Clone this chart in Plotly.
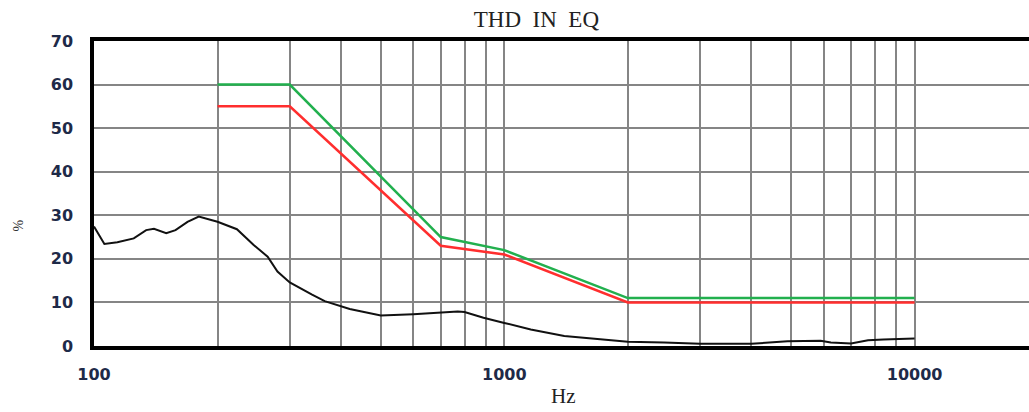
import plotly.graph_objects as go

# THD measurement (black)
freq_meas = [100, 106, 114, 125, 134, 140, 150, 158, 169, 180, 200, 223, 245, 265, 280, 300,
             340, 365, 420, 500, 600, 700, 770, 800, 890, 1000, 1160, 1400, 1700, 2000,
             2450, 3000, 4000, 4900, 5900, 6250, 7000, 7700, 8400, 10000]
thd_meas = [27.4, 23.4, 23.8, 24.7, 26.6, 26.9, 25.9, 26.6, 28.5, 29.7, 28.5, 26.8, 23.2, 20.5,
            17.1, 14.6, 11.8, 10.3, 8.5, 7.0, 7.3, 7.6, 7.9, 7.8, 6.5, 5.3, 3.8, 2.3, 1.5, 1.0,
            0.8, 0.5, 0.5, 1.1, 1.2, 0.8, 0.6, 1.3, 1.5, 1.7]

# Limit lines
freq_limit = [200, 300, 700, 1000, 2000, 10000]
limit_green = [60, 60, 25, 22, 11, 11]
limit_red = [55, 55, 23, 21, 10, 10]

# Axis ticks / gridlines
x_grid = [100, 200, 300, 400, 500, 600, 700, 800, 900,
          1000, 2000, 3000, 4000, 5000, 6000, 7000, 8000, 9000, 10000]
x_labels = {100: "100", 1000: "1000", 10000: "10000"}
y_ticks = [0, 10, 20, 30, 40, 50, 60, 70]

W, H = 1029, 412
L, R, T, B = 94, 0, 41, 66
decade_px = 410.3
x_end = 2 + (W - L - R) / decade_px

fig = go.Figure()
fig.add_trace(go.Scatter(x=freq_limit, y=limit_green, mode="lines",
                         line=dict(color="#22b04e", width=2.5), showlegend=False))
fig.add_trace(go.Scatter(x=freq_limit, y=limit_red, mode="lines",
                         line=dict(color="#ff2e2e", width=2.5), showlegend=False))
fig.add_trace(go.Scatter(x=freq_meas, y=thd_meas, mode="lines",
                         line=dict(color="#111111", width=2), showlegend=False))

tickfont = dict(family="DejaVu Sans", size=16, color="#1e2a48", weight="bold")

fig.update_layout(
    width=W, height=H,
    margin=dict(l=L, r=R, t=T, b=B, pad=0),
    paper_bgcolor="white", plot_bgcolor="white",
    title=dict(text="THD\u00a0\u00a0IN\u00a0\u00a0EQ", xref="container", yref="container",
               x=536.4 / W, y=1 - 18.5 / H, xanchor="center", yanchor="middle",
               font=dict(family="Liberation Serif", size=23, color="#222222")),
    xaxis=dict(type="log", range=[2, x_end],
               tickmode="array", tickvals=x_grid,
               ticktext=[x_labels.get(v, "") for v in x_grid],
               showgrid=True, gridcolor="#858585", gridwidth=1.5,
               showline=True, linecolor="black", linewidth=3.5, mirror=True,
               ticks="", ticklabelstandoff=11, tickfont=tickfont, zeroline=False),
    yaxis=dict(range=[0, 70], tickmode="array", tickvals=y_ticks,
               showgrid=True, gridcolor="#858585", gridwidth=1.5,
               showline=True, linecolor="black", linewidth=3.5, mirror=False,
               ticks="", ticklabelstandoff=14, tickfont=tickfont, zeroline=False),
    annotations=[
        dict(text="Hz", xref="paper", yref="paper",
             x=(563.3 - L) / (W - L - R), y=-(395.5 - (H - B)) / (H - T - B),
             xanchor="center", yanchor="middle", showarrow=False,
             font=dict(family="Liberation Serif", size=21, color="#222222")),
        dict(text="%", xref="paper", yref="paper",
             x=-(L - 17.5) / (W - L - R), y=((H - B) - 226) / (H - T - B),
             xanchor="center", yanchor="middle", showarrow=False, textangle=-90,
             font=dict(family="Liberation Serif", size=14, color="#333333")),
    ],
)

fig.write_html("out.html")
